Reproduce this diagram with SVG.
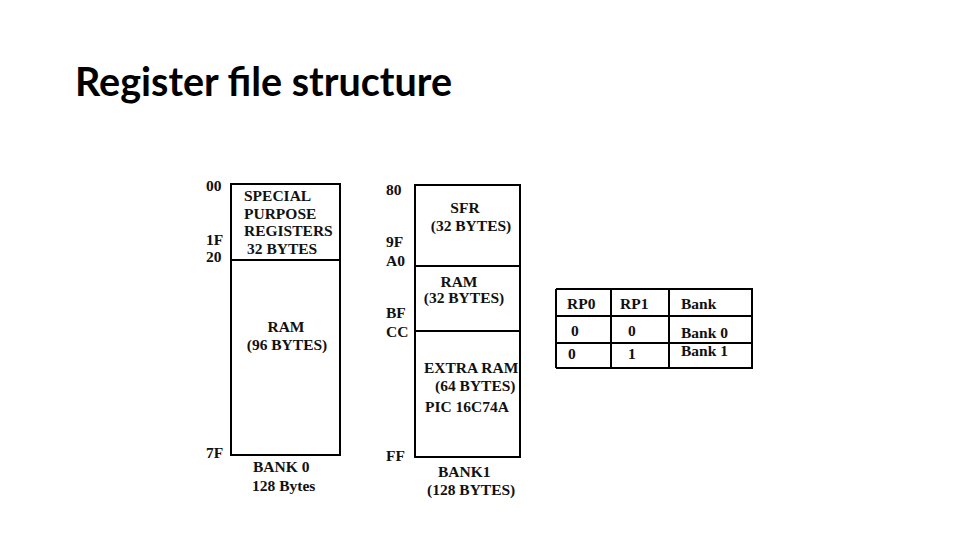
<svg xmlns="http://www.w3.org/2000/svg" width="960" height="540" viewBox="0 0 960 540">
<style>
.t{font-family:"Liberation Serif","Times New Roman",serif;font-weight:bold;font-size:15.5px;fill:#111}
.box{fill:none;stroke:#000;stroke-width:2}
.ln{stroke:#000;stroke-width:2}
.title{font-family:Lato,"Open Sans","Liberation Sans",sans-serif;font-weight:bold;font-size:40px;fill:#000}
</style>
<rect width="960" height="540" fill="#fff"/>
<text class="title" x="75" y="96" textLength="377" lengthAdjust="spacingAndGlyphs">Register file structure</text>

<g id="bank0">
  <rect class="box" x="231" y="184" width="109" height="271"/>
  <line class="ln" x1="231" y1="260" x2="340" y2="260"/>
  <text class="t" x="206" y="191">00</text>
  <text class="t" x="206" y="245">1F</text>
  <text class="t" x="206" y="262">20</text>
  <text class="t" x="206" y="458">7F</text>
  <text class="t" x="244" y="201">SPECIAL</text>
  <text class="t" x="244" y="219">PURPOSE</text>
  <text class="t" x="244" y="236">REGISTERS</text>
  <text class="t" x="247" y="254">32 BYTES</text>
  <text class="t" x="286" y="332" text-anchor="middle">RAM</text>
  <text class="t" x="287" y="350" text-anchor="middle">(96 BYTES)</text>
  <text class="t" x="253" y="472">BANK 0</text>
  <text class="t" x="252" y="491">128 Bytes</text>
</g>

<g id="bank1">
  <rect class="box" x="415" y="185" width="105" height="272"/>
  <line class="ln" x1="415" y1="266" x2="520" y2="266"/>
  <line class="ln" x1="415" y1="331" x2="520" y2="331"/>
  <text class="t" x="386" y="195">80</text>
  <text class="t" x="386" y="247">9F</text>
  <text class="t" x="386" y="266">A0</text>
  <text class="t" x="386" y="318">BF</text>
  <text class="t" x="386" y="337">CC</text>
  <text class="t" x="386" y="461">FF</text>
  <text class="t" x="465" y="213" text-anchor="middle">SFR</text>
  <text class="t" x="471" y="231" text-anchor="middle">(32 BYTES)</text>
  <text class="t" x="459" y="287" text-anchor="middle">RAM</text>
  <text class="t" x="464" y="303" text-anchor="middle">(32 BYTES)</text>
  <text class="t" x="424" y="373">EXTRA RAM</text>
  <text class="t" x="435" y="391">(64 BYTES)</text>
  <text class="t" x="425" y="412">PIC 16C74A</text>
  <text class="t" x="438" y="477">BANK1</text>
  <text class="t" x="427" y="495">(128 BYTES)</text>
</g>

<g id="table">
  <line class="ln" x1="556" y1="289" x2="753" y2="289"/>
  <line class="ln" x1="556" y1="316" x2="753" y2="316"/>
  <line class="ln" x1="556" y1="343" x2="753" y2="343"/>
  <line class="ln" x1="556" y1="368" x2="753" y2="368"/>
  <line class="ln" x1="556" y1="289" x2="556" y2="368"/>
  <line class="ln" x1="611" y1="289" x2="611" y2="368"/>
  <line class="ln" x1="669" y1="289" x2="669" y2="368"/>
  <line class="ln" x1="752" y1="289" x2="752" y2="368"/>
  <text class="t" x="567" y="309">RP0</text>
  <text class="t" x="620" y="309">RP1</text>
  <text class="t" x="681" y="309">Bank</text>
  <text class="t" x="571" y="336">0</text>
  <text class="t" x="628" y="336">0</text>
  <text class="t" x="681" y="338">Bank 0</text>
  <text class="t" x="568" y="359">0</text>
  <text class="t" x="628" y="359">1</text>
  <text class="t" x="681" y="356">Bank 1</text>
</g>
</svg>
